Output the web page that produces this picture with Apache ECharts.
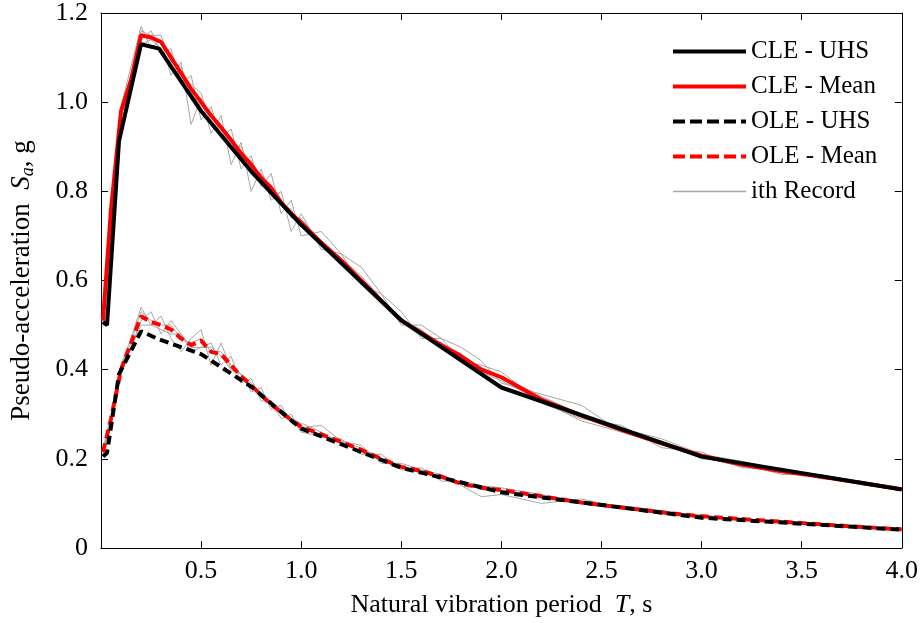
<!DOCTYPE html>
<html>
<head>
<meta charset="utf-8">
<script src="https://cdn.jsdelivr.net/npm/echarts@6/dist/echarts.min.js"></script>
<style>
  html, body { margin: 0; padding: 0; background: #fff; }
  #chart { width: 921px; height: 623px; }
</style>
</head>
<body>
<div id="chart"></div>
<script>
// periods of the design spectra (s)
const uhsT = [0.01, 0.03, 0.09, 0.2, 0.29, 0.5, 0.75, 1.0, 1.5, 2.0, 3.0, 4.0];
const cleUhs = [0.507, 0.5, 0.913, 1.13, 1.12, 0.98, 0.845, 0.725, 0.511, 0.36, 0.205, 0.131];
const oleUhs = [0.205, 0.213, 0.39, 0.486, 0.468, 0.435, 0.362, 0.268, 0.18, 0.125, 0.068, 0.041];

// periods of the record spectra (s)
const recT = [0.01, 0.05, 0.1, 0.15, 0.2, 0.25, 0.3, 0.35, 0.4, 0.45, 0.5, 0.55, 0.6, 0.65, 0.7, 0.75, 0.8, 0.85, 0.9, 0.95, 1.0,
  1.1, 1.2, 1.3, 1.4, 1.5, 1.6, 1.7, 1.8, 1.9, 2.0,
  2.2, 2.4, 2.6, 2.8, 3.0, 3.2, 3.4, 3.6, 3.8, 4.0];

const cleMean = [0.51, 0.76, 0.98, 1.05, 1.15, 1.145, 1.135, 1.1, 1.065, 1.03, 1.0, 0.97, 0.943, 0.915, 0.885, 0.86, 0.83, 0.808, 0.775, 0.75, 0.73,
  0.685, 0.645, 0.6, 0.555, 0.51, 0.483, 0.455, 0.43, 0.4, 0.383,
  0.333, 0.297, 0.265, 0.235, 0.207, 0.187, 0.172, 0.16, 0.146, 0.132];
const oleMean = [0.215, 0.29, 0.4, 0.46, 0.52, 0.507, 0.5, 0.49, 0.47, 0.455, 0.465, 0.44, 0.435, 0.41, 0.385, 0.365, 0.343, 0.322, 0.305, 0.287, 0.272,
  0.255, 0.238, 0.22, 0.2, 0.182, 0.173, 0.16, 0.144, 0.135, 0.13,
  0.116, 0.102, 0.091, 0.08, 0.071, 0.065, 0.059, 0.053, 0.047, 0.042];

// individual records (grey)
const cleRec1 = [0.5, 0.74, 0.99, 1.08, 1.17, 1.12, 1.14, 1.06, 1.09, 0.95, 1.01, 0.93, 0.97, 0.86, 0.91, 0.8, 0.85, 0.78, 0.8, 0.71, 0.75,
  0.67, 0.66, 0.59, 0.57, 0.5, 0.5, 0.47, 0.45, 0.42, 0.37,
  0.345, 0.32, 0.26, 0.24, 0.2, 0.19, 0.165, 0.165, 0.142, 0.13];
const cleRec2 = [0.52, 0.78, 0.97, 1.04, 1.14, 1.16, 1.11, 1.12, 1.04, 1.06, 0.96, 0.99, 0.92, 0.94, 0.85, 0.88, 0.81, 0.84, 0.75, 0.78, 0.7,
  0.71, 0.66, 0.63, 0.57, 0.53, 0.47, 0.47, 0.42, 0.41, 0.395,
  0.325, 0.29, 0.275, 0.225, 0.215, 0.18, 0.178, 0.155, 0.15, 0.134];
const cleRec3 = [0.51, 0.75, 0.98, 1.06, 1.16, 1.15, 1.15, 1.09, 1.08, 1.02, 0.99, 0.97, 0.95, 0.9, 0.9, 0.85, 0.84, 0.8, 0.78, 0.74, 0.74,
  0.68, 0.65, 0.61, 0.56, 0.51, 0.49, 0.45, 0.425, 0.405, 0.385,
  0.34, 0.3, 0.268, 0.245, 0.21, 0.195, 0.175, 0.162, 0.148, 0.133];
const cleRec4 = [0.5, 0.75, 0.97, 1.05, 1.13, 1.14, 1.12, 1.11, 1.05, 1.04, 1.02, 0.95, 0.93, 0.92, 0.87, 0.87, 0.82, 0.81, 0.77, 0.76, 0.72,
  0.69, 0.64, 0.6, 0.55, 0.505, 0.475, 0.46, 0.435, 0.395, 0.375,
  0.33, 0.285, 0.26, 0.232, 0.204, 0.183, 0.17, 0.158, 0.145, 0.131];

const oleRec1 = [0.22, 0.3, 0.41, 0.47, 0.54, 0.5, 0.52, 0.47, 0.44, 0.47, 0.49, 0.41, 0.46, 0.4, 0.39, 0.35, 0.36, 0.31, 0.32, 0.28, 0.27,
  0.275, 0.24, 0.23, 0.19, 0.19, 0.175, 0.165, 0.14, 0.115, 0.12,
  0.1, 0.11, 0.09, 0.078, 0.075, 0.062, 0.062, 0.052, 0.049, 0.041];
const oleRec2 = [0.21, 0.28, 0.39, 0.45, 0.51, 0.53, 0.48, 0.51, 0.48, 0.44, 0.45, 0.46, 0.41, 0.43, 0.37, 0.38, 0.33, 0.33, 0.29, 0.3, 0.26,
  0.25, 0.245, 0.21, 0.21, 0.175, 0.18, 0.15, 0.15, 0.14, 0.135,
  0.12, 0.1, 0.095, 0.084, 0.069, 0.067, 0.056, 0.055, 0.045, 0.043];
const oleRec3 = [0.22, 0.29, 0.41, 0.46, 0.53, 0.51, 0.5, 0.5, 0.47, 0.46, 0.47, 0.44, 0.44, 0.41, 0.39, 0.36, 0.35, 0.32, 0.31, 0.29, 0.28,
  0.26, 0.235, 0.225, 0.2, 0.185, 0.17, 0.16, 0.145, 0.138, 0.13,
  0.118, 0.104, 0.092, 0.082, 0.072, 0.064, 0.06, 0.053, 0.048, 0.042];
const oleRec4 = [0.21, 0.29, 0.4, 0.45, 0.5, 0.5, 0.49, 0.48, 0.48, 0.45, 0.45, 0.45, 0.43, 0.4, 0.39, 0.37, 0.34, 0.32, 0.3, 0.29, 0.275,
  0.25, 0.24, 0.215, 0.2, 0.18, 0.168, 0.158, 0.143, 0.135, 0.128,
  0.114, 0.1, 0.088, 0.078, 0.07, 0.066, 0.058, 0.054, 0.046, 0.042];

const xTicks = [0.5, 1.0, 1.5, 2.0, 2.5, 3.0, 3.5, 4.0];
const legendNames = ['CLE - UHS', 'CLE - Mean', 'OLE - UHS', 'OLE - Mean', 'ith Record'];

const FONT = 'Liberation Serif';
const GRAY = '#a6a6a6';
const zip = (xs, ys) => xs.map((x, i) => [x, ys[i]]);

const grayRec = (data) => ({
  name: 'ith Record', type: 'line', data: data, symbol: 'none', z: 1,
  lineStyle: { color: GRAY, width: 1 }, itemStyle: { color: GRAY }
});
const spec = (name, data, color, dashed, z) => ({
  name: name, type: 'line', data: data, symbol: 'none', z: z,
  lineStyle: { color: color, width: 4, type: dashed ? [9, 5] : 'solid' },
  itemStyle: { color: color }
});

const edgeAxis = {
  axisLine: { onZero: false, lineStyle: { color: '#000', width: 1 } },
  axisTick: { inside: true, length: 7, lineStyle: { color: '#000' } },
  splitLine: { show: false }
};

const chart = echarts.init(document.getElementById('chart'), null, { renderer: 'canvas' });
chart.setOption({
  animation: false,
  textStyle: { fontFamily: FONT },
  grid: { left: 101, right: 19, top: 13, bottom: 75 },
  legend: {
    data: legendNames.map((n, i) => ({
      name: n,
      lineStyle: { width: i < 4 ? 4 : 1.5, type: (i === 2 || i === 3) ? [12, 5] : 'solid' }
    })),
    orient: 'vertical', left: 666, top: 34,
    itemWidth: 73, itemHeight: 24, itemGap: 10,
    itemStyle: { opacity: 0 },
    textStyle: { fontFamily: FONT, fontSize: 25, color: '#000' }
  },
  xAxis: [Object.assign({
    type: 'value', min: 0, max: 4, interval: 0.5,
    name: '{a|Natural vibration period  }{i|T}{a|, s}',
    nameLocation: 'middle', nameGap: 44,
    nameTextStyle: { rich: {
      a: { fontFamily: FONT, fontSize: 26, color: '#000' },
      i: { fontFamily: FONT, fontSize: 26, fontStyle: 'italic', color: '#000' }
    } },
    axisLabel: {
      fontFamily: FONT, fontSize: 26, color: '#000', margin: 10,
      formatter: v => (xTicks.some(t => Math.abs(t - v) < 1e-6) ? v.toFixed(1) : '')
    }
  }, edgeAxis), Object.assign({
    type: 'value', min: 0, max: 4, interval: 0.5, position: 'top',
    axisLabel: { show: false }
  }, edgeAxis)],
  yAxis: [Object.assign({
    type: 'value', min: 0, max: 1.2, interval: 0.2,
    name: '{a|Pseudo-acceleration  }{i|S}{s|a}{a|, g}',
    nameLocation: 'middle', nameGap: 64,
    nameTextStyle: { rich: {
      a: { fontFamily: FONT, fontSize: 27, color: '#000' },
      i: { fontFamily: FONT, fontSize: 27, fontStyle: 'italic', color: '#000' },
      s: { fontFamily: FONT, fontSize: 18, fontStyle: 'italic', color: '#000', padding: [12, 0, 0, 0] }
    } },
    axisLabel: {
      fontFamily: FONT, fontSize: 26, color: '#000', margin: 13,
      formatter: v => (v === 0 ? '0' : v.toFixed(1))
    }
  }, edgeAxis), Object.assign({
    type: 'value', min: 0, max: 1.2, interval: 0.2, position: 'right',
    axisLabel: { show: false }
  }, edgeAxis)],
  series: [
    grayRec(zip(recT, cleRec1)),
    grayRec(zip(recT, cleRec2)),
    grayRec(zip(recT, cleRec3)),
    grayRec(zip(recT, cleRec4)),
    grayRec(zip(recT, oleRec1)),
    grayRec(zip(recT, oleRec2)),
    grayRec(zip(recT, oleRec3)),
    grayRec(zip(recT, oleRec4)),
    spec('CLE - Mean', zip(recT, cleMean), '#ff0000', false, 3),
    spec('OLE - Mean', zip(recT, oleMean), '#ff0000', true, 3),
    spec('CLE - UHS', zip(uhsT, cleUhs), '#000000', false, 4),
    spec('OLE - UHS', zip(uhsT, oleUhs), '#000000', true, 4)
  ]
});
</script>
</body>
</html>
